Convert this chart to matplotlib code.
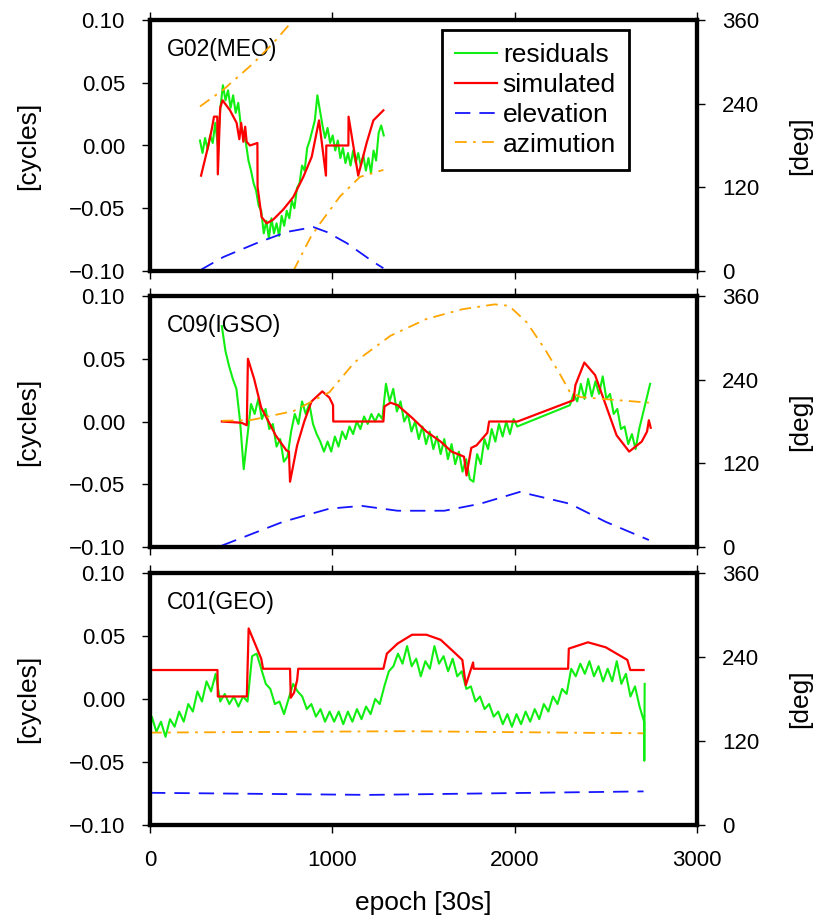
import numpy as np
import matplotlib.pyplot as plt

plt.rcParams['font.family'] = ['Liberation Sans', 'DejaVu Sans']

# ---------------- G02 (MEO) ----------------
g02_res = [0.004, -0.006, 0.006, -0.003, 0.008, 0.002, 0.018, 0.000, 0.030, 0.048,
           0.036, 0.044, 0.030, 0.040, 0.026, 0.034, 0.016, 0.010, 0.002, -0.012,
           -0.020, -0.030, -0.036, -0.048, -0.052, -0.070, -0.060, -0.074, -0.058, -0.070,
           -0.062, -0.072, -0.056, -0.064, -0.052, -0.058, -0.044, -0.050, -0.034, -0.030,
           -0.016, -0.020, -0.002, 0.004, 0.012, 0.020, 0.040, 0.028, 0.016, 0.006,
           0.014, 0.002, 0.008, -0.004, 0.004, -0.010, -0.002, -0.014, -0.006, -0.016,
           -0.004, -0.014, -0.006, -0.016, -0.008, -0.020, -0.010, -0.022, -0.004, -0.012,
           0.010, 0.016, 0.008]
g02_res_epoch = np.linspace(274, 1282, len(g02_res))

g02_sim_epoch = [280, 300, 320, 340, 351, 369, 372, 385, 398, 439, 475, 490, 500, 512, 522,
                 530, 548, 589, 590, 612, 640, 676, 731, 786, 841, 887, 927, 965, 967,
                 1088, 1089, 1142, 1188, 1225, 1280]
g02_sim = [-0.024, -0.012, 0.000, 0.014, 0.023, 0.023, -0.023, 0.030, 0.036, 0.028, 0.018,
           0.005, 0.018, 0.003, 0.015, 0.003, 0.000, 0.002, -0.033, -0.057, -0.062, -0.059,
           -0.051, -0.041, -0.025, -0.009, 0.020, -0.024, 0.000, 0.000, 0.023, -0.024,
           0.002, 0.020, 0.028]

g02_ele_epoch = [274, 402, 585, 750, 896, 969, 1079, 1133, 1225, 1280]
g02_ele = [1, 20, 40, 56, 63, 56, 40, 30, 13, 4]

g02_azi_epoch = [274, 402, 567, 676, 786, 786, 880, 932, 1042, 1152, 1280]
g02_azi = [236, 260, 298, 327, 360, 0, 48, 68, 107, 135, 145]

# ---------------- C09 (IGSO) ----------------
c09_res_a = [0.076, 0.056, 0.044, 0.034, 0.026, 0.000, -0.038, -0.012, 0.014, 0.006,
             0.018, 0.002, 0.010, -0.006, -0.002, -0.020, -0.014, -0.032, -0.028, -0.008,
             0.006, -0.002, 0.016, 0.006, 0.014, -0.002, -0.010, -0.016, -0.024, -0.016,
             -0.024, -0.012, -0.020, -0.008, -0.014, -0.004, -0.010, 0.000, -0.006, 0.004,
             -0.002, 0.006, 0.000, 0.006, 0.002, 0.030, 0.016, 0.026, 0.008, 0.016,
             0.000, 0.006, -0.008, 0.000, -0.014, -0.004, -0.018, -0.008, -0.022, -0.012,
             -0.026, -0.014, -0.030, -0.018, -0.034, -0.024, -0.040, -0.030, -0.046, -0.048,
             -0.026, -0.034, -0.014, -0.022, -0.006, -0.016, -0.002, -0.012, 0.000, -0.010,
             0.002, -0.004]
c09_res_b = [0.013, 0.022, 0.016, 0.030, 0.018, 0.034, 0.020, 0.032, 0.022, 0.036,
             0.018, 0.022, 0.006, 0.010, -0.006, -0.004, -0.018, -0.010, -0.022, -0.006,
             0.006, 0.018, 0.030]
c09_res = c09_res_a + c09_res_b
c09_res_epoch = np.concatenate([np.linspace(394, 2014, len(c09_res_a)),
                                np.linspace(2303, 2743, len(c09_res_b))])

c09_sim_epoch = [394, 502, 531, 537, 571, 610, 650, 689, 748, 762, 768, 807, 846, 886, 945,
                 984, 1004, 1005, 1280, 1286, 1319, 1358, 1437, 1516, 1594, 1654, 1722,
                 1736, 1762, 1791, 1850, 1860, 2016, 2323, 2333, 2382, 2441, 2500, 2559,
                 2628, 2697, 2726, 2736, 2746]
c09_sim = [0.000, -0.001, -0.003, 0.050, 0.034, 0.011, 0.000, -0.011, -0.023, -0.024,
           -0.048, -0.019, 0.000, 0.016, 0.024, 0.019, 0.013, 0.000, 0.000, 0.012, 0.015,
           0.013, 0.003, -0.008, -0.016, -0.024, -0.028, -0.043, -0.021, -0.019, -0.009,
           0.000, 0.000, 0.017, 0.029, 0.047, 0.037, 0.013, -0.011, -0.024, -0.016,
           -0.008, 0.001, -0.005]

c09_ele_epoch = [394, 728, 984, 1161, 1358, 1614, 1811, 2028, 2303, 2500, 2736]
c09_ele = [2, 36, 55, 59, 52, 52, 62, 79, 62, 36, 10]

c09_azi_epoch = [394, 550, 590, 787, 984, 1122, 1319, 1516, 1713, 1890, 1969, 2067, 2165,
                 2244, 2303, 2362, 2500, 2736]
c09_azi = [181, 182, 184, 195, 222, 265, 303, 327, 341, 348, 346, 322, 284, 250, 222, 215,
           212, 207]

# ---------------- C01 (GEO) ----------------
c01_res_main = [-0.014, -0.026, -0.018, -0.030, -0.016, -0.022, -0.010, -0.018, -0.004, -0.010,
                0.006, -0.002, 0.014, 0.006, 0.020, -0.002, 0.004, -0.004, 0.002, -0.006,
                0.002, -0.002, 0.034, 0.036, 0.024, 0.012, 0.008, -0.004, -0.002, -0.012,
                0.000, 0.012, 0.006, 0.002, -0.008, -0.004, -0.014, -0.008, -0.018, -0.010,
                -0.018, -0.010, -0.020, -0.010, -0.018, -0.008, -0.016, -0.006, -0.012, 0.000,
                -0.004, 0.010, 0.022, 0.026, 0.036, 0.028, 0.042, 0.026, 0.032, 0.018,
                0.030, 0.024, 0.042, 0.028, 0.034, 0.022, 0.032, 0.018, 0.022, 0.008,
                0.010, -0.002, 0.002, -0.008, -0.004, -0.014, -0.010, -0.020, -0.012, -0.022,
                -0.012, -0.020, -0.010, -0.018, -0.008, -0.016, -0.004, -0.010, 0.002, -0.004,
                0.008, 0.004, 0.024, 0.018, 0.028, 0.020, 0.030, 0.018, 0.026, 0.014,
                0.024, 0.014, 0.030, 0.012, 0.020, 0.002, 0.010, -0.006, -0.018]
c01_res_head = [0.100, -0.088, -0.020]
c01_res_head_epoch = [0, 2, 5]
c01_res_tail = [-0.049, 0.012]
c01_res_tail_epoch = [2711, 2713]
c01_res = c01_res_head + c01_res_main + c01_res_tail
c01_res_epoch = np.concatenate([c01_res_head_epoch,
                                np.linspace(10, 2710, len(c01_res_main)),
                                c01_res_tail_epoch])

c01_sim_epoch = [0, 370, 372, 531, 541, 610, 620, 768, 772, 790, 807, 813, 1280, 1299, 1358,
                 1437, 1516, 1594, 1654, 1713, 1732, 1772, 1775, 2293, 2297, 2402, 2500,
                 2618, 2634, 2707]
c01_sim = [0.023, 0.023, 0.002, 0.002, 0.056, 0.032, 0.024, 0.024, 0.001, 0.005, 0.015,
           0.024, 0.024, 0.036, 0.044, 0.051, 0.051, 0.047, 0.039, 0.031, 0.011, 0.029,
           0.024, 0.024, 0.040, 0.045, 0.041, 0.031, 0.023, 0.023]

c01_ele_epoch = [0, 1200, 2707]
c01_ele = [46, 43, 48]
c01_azi_epoch = [0, 1400, 2707]
c01_azi = [132, 134, 131]

W, H = 819, 921
X0, X1 = 150, 697
panels = [
    ('G02(MEO)', 20, 271, g02_res_epoch, g02_res, g02_sim_epoch, g02_sim,
     g02_ele_epoch, g02_ele, g02_azi_epoch, g02_azi),
    ('C09(IGSO)', 296, 547, c09_res_epoch, c09_res, c09_sim_epoch, c09_sim,
     c09_ele_epoch, c09_ele, c09_azi_epoch, c09_azi),
    ('C01(GEO)', 573, 825, c01_res_epoch, c01_res, c01_sim_epoch, c01_sim,
     c01_ele_epoch, c01_ele, c01_azi_epoch, c01_azi),
]


def break_wrap(ep, val):
    # lift the pen where azimuth wraps 360 -> 0
    ep = np.asarray(ep, float)
    val = np.asarray(val, float)
    idx = np.where(np.abs(np.diff(val)) > 180)[0] + 1
    return np.insert(ep, idx, np.nan), np.insert(val, idx, np.nan)


fig = plt.figure(figsize=(W / 100, H / 100), dpi=100)

for i, (title, top, bot, rx, ry, sx, sy, ex, ey, zx, zy) in enumerate(panels):
    rect = [X0 / W, 1 - bot / H, (X1 - X0) / W, (bot - top) / H]
    ax = fig.add_axes(rect)
    ax2 = ax.twinx()

    l1, = ax.plot(rx, ry, color='#11ee11', lw=1.5, label='residuals')
    l2, = ax.plot(sx, sy, color='red', lw=1.6, label='simulated')
    l3, = ax2.plot(ex, ey, color='#1515ff', lw=1.3, dashes=(8.5, 5), label='elevation')
    azx, azy = break_wrap(zx, zy)
    l4, = ax2.plot(azx, azy, color='#ffa500', lw=1.3, dashes=(6.5, 3.5, 1.5, 3.5),
                   label='azimution')

    ax.set_xlim(0, 3000)
    ax.set_ylim(-0.1, 0.1)
    ax2.set_ylim(0, 360)
    ax.set_xticks([0, 1000, 2000, 3000])
    ax.set_yticks([-0.1, -0.05, 0, 0.05, 0.1])
    ax.set_yticklabels(['\u22120.10', '\u22120.05', '0.00', '0.05', '0.10'])
    ax2.set_yticks([0, 120, 240, 360])

    ax.tick_params(axis='both', direction='out', length=6, width=1, pad=12,
                   labelsize=16, top=True)
    ax2.tick_params(axis='y', direction='out', length=6, width=1, pad=12, labelsize=16)
    if i < 2:
        ax.tick_params(axis='x', labelbottom=False)

    for a in (ax, ax2):
        for s in a.spines.values():
            s.set_linewidth(3)

    ax.text(0.03, 0.93, title, transform=ax.transAxes, fontsize=16.5,
            ha='left', va='top')

    yc = 1 - (top + bot) / 2 / H
    fig.text(28 / W, yc, '[cycles]', rotation=90, ha='center', va='center', fontsize=19)
    fig.text(800 / W, yc, '[deg]', rotation=90, ha='center', va='center', fontsize=19)

    if i == 0:
        leg = ax2.legend([l1, l2, l3, l4], ['residuals', 'simulated', 'elevation', 'azimution'],
                         loc='upper left', bbox_to_anchor=(0.533, 0.96), fontsize=19,
                         fancybox=False, edgecolor='black', framealpha=1, borderpad=0.5,
                         labelspacing=0.22, handlelength=1.6, handletextpad=0.22,
                         borderaxespad=0)
        leg.get_frame().set_linewidth(2)

fig.text((X0 + X1) / 2 / W, 1 - 903 / H, 'epoch [30s]', ha='center', va='center', fontsize=19)

plt.savefig('out.png', dpi=100)
